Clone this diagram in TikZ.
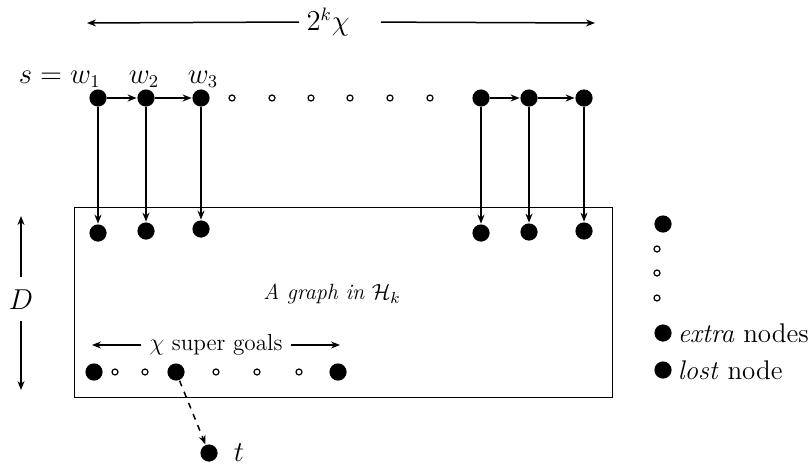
\documentclass[tikz,border=0pt]{standalone}
\usetikzlibrary{arrows.meta,positioning}

\tikzset{
  bignode/.style={circle, fill, inner sep=0pt, minimum size=8.6pt},
  dotnode/.style={circle, draw, inner sep=0pt, minimum size=3pt, line width=0.6pt},
  lbl/.style={font=\fontsize{13.5}{16}\selectfont},
  >={Stealth[length=4.5pt,width=3.5pt]},
}

\begin{document}
\begin{tikzpicture}[x=0.5pt, y=-0.5pt, line width=0.75pt]
	\useasboundingbox (0,0) rectangle (812,466);

	% width of the row of w's
	\node [lbl] (width) at (328,22) {$2^k\chi$};
	\coordinate (wl) at (87,23);
	\coordinate (wr) at (595,23);
	\draw [->] (width.west) -- (wl);
	\draw [->, shorten <=12pt] (width.east) -- (wr);

	% the path s = w_1, w_2, ...
	\node [bignode] (w1) at (98,98) {};
	\node [bignode] (w2) at (146,98) {};
	\node [bignode] (w3) at (201,98) {};
	\foreach \x in {232,272,311,350,390,430}
		\node [dotnode] at (\x,98) {};
	\node [bignode] (w4) at (481,98) {};
	\node [bignode] (w5) at (529,98) {};
	\node [bignode] (w6) at (584,98) {};
	\draw [->] (w1) -- (w2);
	\draw [->] (w2) -- (w3);
	\draw [->] (w4) -- (w5);
	\draw [->] (w5) -- (w6);

	\node [lbl, anchor=base east] at (108,83) {$s = w_1$};
	\node [lbl, anchor=base] at (144,83) {$w_2$};
	\node [lbl, anchor=base] at (203,83) {$w_3$};

	% the graph
	\draw [line width=0.45pt] (74,207) rectangle (612,397);
	\node [font=\itshape\fontsize{11}{13}\selectfont] (graph) at (332,294) {A graph in $\mathcal{H}_k$};

	\node [bignode] (v1) at (98,233) {};
	\node [bignode] (v2) at (146,231) {};
	\node [bignode] (v3) at (201,229) {};
	\node [bignode] (v4) at (481,233) {};
	\node [bignode] (v5) at (529,232) {};
	\node [bignode] (v6) at (584,231) {};
	\foreach \i in {1,...,6}
		\draw [->] (w\i) -- (v\i);

	% depth
	\node [lbl] (depth) at (21,300) {$D$};
	\coordinate (du) at (21,216);
	\coordinate (dd) at (21,390);
	\draw [->, shorten <=3pt] (depth.north) -- (du);
	\draw [->, shorten <=2pt] (depth.south) -- (dd);

	% super goals
	\node [font=\fontsize{11.6}{14}\selectfont, inner sep=4pt] (goals) at (216,345) {$\chi$ super goals};
	\coordinate (gl) at (92,345);
	\coordinate (gr) at (340,345);
	\draw [->] (goals.west) -- (gl);
	\draw [->] (goals.east) -- (gr);

	\node [bignode] (g1) at (94,372) {};
	\node [bignode] (g2) at (176,372) {};
	\node [bignode] (g3) at (338,372) {};
	\foreach \x in {115,145,216,257,299}
		\node [dotnode] at (\x,372) {};

	\node [bignode] (t) at (209,453) {};
	\node [lbl, right=4pt of t] {$t$};
	\draw [->, dashed] (g2) -- (t);

	% extra and lost nodes
	\node [bignode] (x0) at (663,224) {};
	\foreach \y in {249,273,298}
		\node [dotnode] at (657,\y) {};
	\node [bignode] (x1) at (663,333) {};
	\node [lbl, right=-1pt of x1] {\emph{extra} nodes};
	\node [bignode] (lost) at (663,370) {};
	\node [lbl, right=-1pt of lost] {\emph{lost} node};
\end{tikzpicture}
\end{document}
